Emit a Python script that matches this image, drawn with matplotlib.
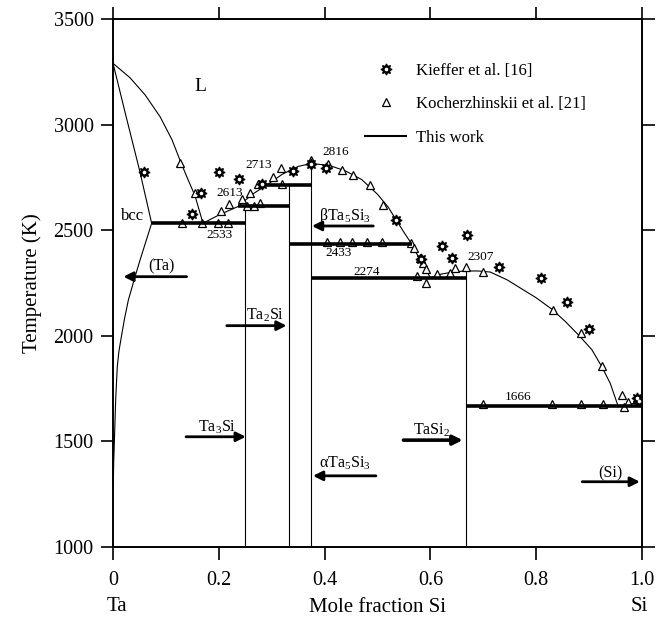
import matplotlib
matplotlib.use("Agg")
import matplotlib.pyplot as plt
from matplotlib.lines import Line2D

plt.rcParams['font.family'] = ['Liberation Serif', 'DejaVu Serif']
plt.rcParams['mathtext.fontset'] = 'custom'
plt.rcParams['mathtext.rm'] = 'Liberation Serif'
plt.rcParams['mathtext.it'] = 'Liberation Serif:italic'

# --- calculated phase boundaries ("This work") ---
liq_ta_x = [0.0, 0.032, 0.0605, 0.089, 0.1115, 0.1285, 0.142, 0.155, 0.170]
liq_ta_t = [3290, 3222, 3141, 3037, 2928, 2819, 2738, 2663, 2533]

sol_ta_x = [0.0, 0.025, 0.05, 0.073]
sol_ta_t = [3290, 3035, 2785, 2533]

solvus_x = [0.073, 0.060, 0.050, 0.0416, 0.035, 0.029, 0.022, 0.016,
            0.011, 0.008, 0.005, 0.0025, 0.0012, 0.0005]
solvus_t = [2533, 2430, 2350, 2280, 2222, 2170, 2085, 2000,
            1925, 1854, 1700, 1500, 1400, 1300]

liq_mid_x = [0.170, 0.200, 0.237, 0.262, 0.290, 0.320, 0.350, 0.375,
             0.410, 0.440, 0.470, 0.500, 0.520, 0.535, 0.550, 0.565,
             0.580, 0.590, 0.600]
liq_mid_t = [2533, 2572, 2613, 2668, 2713, 2765, 2802, 2816,
             2806, 2780, 2740, 2670, 2610, 2550, 2490, 2433,
             2360, 2320, 2274]

liq_tasi2_x = [0.600, 0.620, 0.645, 0.667, 0.690, 0.713, 0.745, 0.776,
               0.800, 0.829, 0.855, 0.880, 0.905, 0.924, 0.940, 0.955]
liq_tasi2_t = [2274, 2292, 2303, 2307, 2307, 2302, 2265, 2217,
               2180, 2127, 2068, 2004, 1935, 1854, 1775, 1666]

liq_si_x = [0.955, 1.0]
liq_si_t = [1666, 1687]

# invariant reactions: temperature, x start, x end
inv_t = [2533, 2613, 2713, 2433, 2274, 1666]
inv_x0 = [0.073, 0.237, 0.290, 0.333, 0.375, 0.667]
inv_x1 = [0.250, 0.333, 0.375, 0.565, 0.667, 1.000]

# compounds: composition, upper temperature
comp_x = [0.25, 0.333, 0.375, 0.667]
comp_top = [2613, 2713, 2816, 2307]

# --- experimental data ---
kieffer_x = [0.059, 0.200, 0.239, 0.166, 0.150, 0.281, 0.340, 0.374, 0.402,
             0.535, 0.582, 0.621, 0.640, 0.669, 0.730, 0.810, 0.859, 0.900,
             0.990, 0.995]
kieffer_t = [2775, 2775, 2742, 2675, 2578, 2720, 2780, 2815, 2795,
             2550, 2363, 2426, 2367, 2478, 2325, 2275, 2162, 2031,
             1705, 1690]

koch_x = [0.127, 0.155, 0.204, 0.220, 0.243, 0.258, 0.274, 0.303, 0.317,
          0.375, 0.407, 0.432, 0.454, 0.485, 0.510, 0.563, 0.569, 0.580,
          0.586, 0.592, 0.592, 0.574, 0.612, 0.637, 0.646, 0.667, 0.700,
          0.832, 0.885, 0.924, 0.962, 0.966, 0.974,
          # points lying on the invariant lines
          0.130, 0.168, 0.199, 0.218, 0.253, 0.266, 0.278, 0.319,
          0.404, 0.429, 0.452, 0.481, 0.509,
          0.700, 0.829, 0.884, 0.927, 0.990]
koch_t = [2818, 2675, 2592, 2625, 2647, 2678, 2718, 2754, 2794,
          2833, 2814, 2786, 2762, 2715, 2620, 2438, 2415, 2367,
          2344, 2315, 2249, 2283, 2293, 2299, 2320, 2328, 2304,
          2122, 2012, 1858, 1720, 1664, 1688,
          2533, 2533, 2533, 2533, 2613, 2613, 2628, 2720,
          2443, 2443, 2443, 2443, 2443,
          1676, 1676, 1676, 1676, 1700]

fig = plt.figure(figsize=(6.65, 6.19), dpi=100)
ax = fig.add_axes([0.170, 0.1163, 0.7954, 0.853])

thin = dict(color='black', lw=0.8, zorder=3)
ax.plot(liq_ta_x, liq_ta_t, **thin)
ax.plot(sol_ta_x, sol_ta_t, **thin)
ax.plot(solvus_x, solvus_t, **thin)
ax.plot(liq_mid_x, liq_mid_t, **thin)
ax.plot(liq_tasi2_x, liq_tasi2_t, **thin)
ax.plot(liq_si_x, liq_si_t, **thin)
for cx, ct in zip(comp_x, comp_top):
    ax.vlines(cx, 1000, ct, **thin)

# experimental points
ax.plot(koch_x, koch_t, ls='none', marker='^', ms=6, mfc='white',
        mec='black', mew=0.9, zorder=4)
star = dict(ls='none', marker=(8, 1, 0), ms=8, mfc='black', mec='black')
core = dict(ls='none', marker='o', ms=5, mfc='black', mec='black')
dot = dict(ls='none', marker='o', ms=1.6, mfc='white', mec='white')
ax.plot(kieffer_x, kieffer_t, zorder=5, **star)
ax.plot(kieffer_x, kieffer_t, zorder=5, **core)
ax.plot(kieffer_x, kieffer_t, zorder=6, **dot)

for t, x0, x1 in zip(inv_t, inv_x0, inv_x1):
    ax.hlines(t, x0, x1, color='black', lw=2.6, zorder=4.5)

# invariant temperatures
small = dict(fontsize=9.5, ha='center', va='center')
ax.text(0.202, 2478, '2533', **small)
ax.text(0.221, 2675, '2613', **small)
ax.text(0.275, 2810, '2713', **small)
ax.text(0.421, 2868, '2816', **small)
ax.text(0.426, 2391, '2433', **small)
ax.text(0.480, 2302, '2274', **small)
ax.text(0.694, 2372, '2307', **small)
ax.text(0.765, 1711, '1666', **small)

# phase labels
ax.text(0.165, 3181, 'L', fontsize=14, ha='center', va='center')
ax.text(0.037, 2565, 'bcc', fontsize=12, ha='center', va='center')
lab = dict(fontsize=11.5, ha='center', va='center')
ax.text(0.092, 2328, '(Ta)', **lab)
ax.text(0.287, 2099, r'Ta$_2$Si', **lab)
ax.text(0.196, 1569, r'Ta$_3$Si', **lab)
ax.text(0.439, 2565, r'βTa$_5$Si$_3$', **lab)
ax.text(0.439, 1396, r'αTa$_5$Si$_3$', **lab)
ax.text(0.602, 1554, r'TaSi$_2$', **lab)
ax.text(0.940, 1348, '(Si)', **lab)

arrow = dict(arrowstyle='-|>', color='black', lw=2, mutation_scale=14,
             shrinkA=0, shrinkB=0)
ax.annotate('', xy=(0.0195, 2280), xytext=(0.139, 2280), arrowprops=arrow)
ax.annotate('', xy=(0.328, 2048), xytext=(0.215, 2048), arrowprops=arrow)
ax.annotate('', xy=(0.251, 1522), xytext=(0.138, 1522), arrowprops=arrow)
ax.annotate('', xy=(0.376, 2520), xytext=(0.492, 2520), arrowprops=arrow)
ax.annotate('', xy=(0.378, 1337), xytext=(0.497, 1337), arrowprops=arrow)
ax.annotate('', xy=(0.661, 1506), xytext=(0.549, 1506),
            arrowprops=dict(arrow, lw=2.6))
ax.annotate('', xy=(0.996, 1309), xytext=(0.887, 1309), arrowprops=arrow)

# legend
h_k = (Line2D([], [], **star), Line2D([], [], **core), Line2D([], [], **dot))
h_t = Line2D([], [], ls='none', marker='^', ms=6, mfc='white', mec='black', mew=0.9)
h_l = Line2D([], [], color='black', lw=1.5)
ax.legend([h_k, h_t, h_l],
          ['Kieffer et al. [16]', 'Kocherzhinskii et al. [21]', 'This work'],
          loc='upper left', bbox_to_anchor=(0.476, 0.917), frameon=False,
          fontsize=12, handlelength=2.5, handletextpad=0.55,
          labelspacing=1.05, borderpad=0, borderaxespad=0)

ax.set_xlim(0, 1.0)
ax.set_ylim(1000, 3500)
ax.set_xticks([0, 0.2, 0.4, 0.6, 0.8, 1.0])
ax.set_xticklabels(['0', '0.2', '0.4', '0.6', '0.8', '1.0'])
ax.set_yticks([1000, 1500, 2000, 2500, 3000, 3500])
ax.tick_params(direction='out', length=9, width=1.2, top=True, right=True,
               labelsize=14.5)
ax.tick_params(axis='x', pad=8)
ax.tick_params(axis='y', pad=5)
for sp in ax.spines.values():
    sp.set_linewidth(1.4)

ax.set_ylabel('Temperature (K)', fontsize=15, labelpad=8)
ax.set_xlabel('Mole fraction Si', fontsize=15, labelpad=6)
ax.text(0.007, -0.112, 'Ta', transform=ax.transAxes, fontsize=15,
        ha='center', va='center')
ax.text(0.995, -0.112, 'Si', transform=ax.transAxes, fontsize=15,
        ha='center', va='center')

fig.savefig('out.png', dpi=100)
